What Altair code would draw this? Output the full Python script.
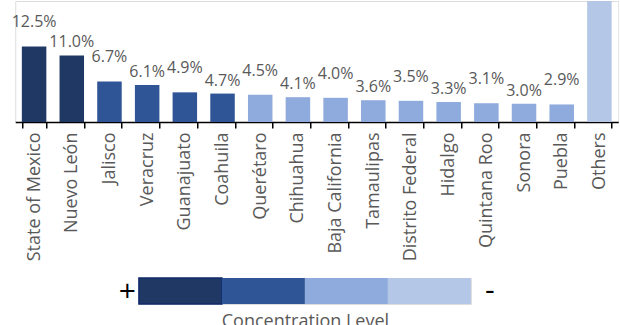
import altair as alt
import pandas as pd

states = ["State of Mexico", "Nuevo León", "Jalisco", "Veracruz", "Guanajuato",
          "Coahuila", "Querétaro", "Chihuahua", "Baja California", "Tamaulipas",
          "Distrito Federal", "Hidalgo", "Quintana Roo", "Sonora", "Puebla", "Others"]
shares = [12.5, 11.0, 6.7, 6.1, 4.9, 4.7, 4.5, 4.1, 4.0, 3.6, 3.5, 3.3, 3.1, 3.0, 2.9, 22.1]
levels = [1, 1, 2, 2, 2, 2, 3, 3, 3, 3, 3, 3, 3, 3, 3, 4]
level_ids = [1, 2, 3, 4]
level_colors = ["#203864", "#2F5597", "#8FAADC", "#B4C7E7"]
legend_ends = ["+", "-"]

FONT = "Open Sans"
GREY = "#595959"

df = pd.DataFrame({"state": states, "share": shares, "level": levels})
df["label"] = df["share"].map(lambda v: f"{v:.1f}%")
df["stagger"] = ["high" if i % 2 == 0 else "low" for i in range(len(df))]

color_scale = alt.Scale(domain=level_ids, range=level_colors)

x_enc = alt.X("state:N", sort=states, title=None,
              scale=alt.Scale(paddingInner=0.35, paddingOuter=0.175),
              axis=alt.Axis(labelAngle=-90, labelFontSize=18, labelColor=GREY,
                            labelFont=FONT, labelPadding=4, tickBand="extent",
                            tickSize=6, tickWidth=1.5, tickColor="black",
                            domainColor="black", domainWidth=1.5))
y_enc = alt.Y("share:Q", scale=alt.Scale(domain=[0, 20], clamp=True), axis=None)

base = alt.Chart(df)
bars = base.mark_bar().encode(
    x=x_enc, y=y_enc,
    color=alt.Color("level:O", scale=color_scale, legend=None),
)
lab = base.transform_filter(alt.datum.state != "Others")
labels_high = lab.transform_filter(alt.datum.stagger == "high").mark_text(
    font=FONT, fontSize=16, color=GREY, baseline="middle", dy=-24
).encode(x=alt.X("state:N", sort=states), y="share:Q", text="label:N")
labels_low = lab.transform_filter(alt.datum.stagger == "low").mark_text(
    font=FONT, fontSize=16, color=GREY, baseline="middle", dy=-13
).encode(x=alt.X("state:N", sort=states), y="share:Q", text="label:N")

main = alt.layer(bars, labels_high, labels_low).properties(width=603, height=121)

ldf = pd.DataFrame({"level": level_ids, "color": level_colors})
ldf["start"] = ldf["level"] - 1
ldf["end"] = ldf["level"]

lx = alt.X("start:Q", scale=alt.Scale(domain=[0, len(level_ids)], nice=False),
           axis=alt.Axis(labels=False, ticks=False, domain=False, grid=False,
                         title="Concentration Level", titleFont=FONT,
                         titleFontSize=18, titleFontWeight="normal",
                         titleColor=GREY, titlePadding=8))
lbase = alt.Chart(ldf)
blocks = lbase.mark_rect().encode(
    x=lx, x2="end:Q",
    color=alt.Color("level:O", scale=color_scale, legend=None),
    stroke=alt.condition(alt.datum.level == 1, alt.value("#0F2A6A"), alt.value(None)),
    strokeWidth=alt.condition(alt.datum.level == 1, alt.value(1.5), alt.value(0)),
)
plus = lbase.transform_filter(alt.datum.level == level_ids[0]).mark_text(
    font=FONT, fontSize=30, color="black", align="right", baseline="middle", dx=-3
).encode(x="start:Q", y=alt.value(14), text=alt.value(legend_ends[0]))
minus = lbase.transform_filter(alt.datum.level == level_ids[-1]).mark_text(
    font=FONT, fontSize=30, color="black", align="left", baseline="middle", dx=14
).encode(x="end:Q", y=alt.value(13), text=alt.value(legend_ends[1]))

legend = alt.layer(blocks, plus, minus).properties(width=332, height=26)

chart = alt.vconcat(main, legend, spacing=13, center=True).properties(
    padding={"left": 5, "top": 0, "right": 0, "bottom": 0}
).configure_view(stroke=None).configure(font=FONT)

chart.save("out.html", embed_options={"renderer": "svg", "actions": False})
